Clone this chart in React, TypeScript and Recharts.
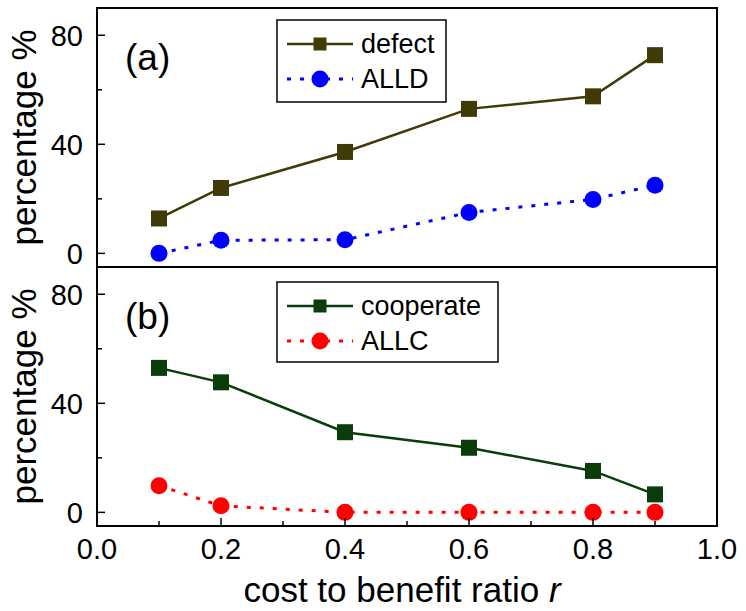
import React from 'react';
import { LineChart, Line, XAxis, YAxis, ReferenceArea } from 'recharts';

// cost to benefit ratio r
const RATIO = [0.1, 0.2, 0.4, 0.6, 0.8, 0.9];
// panel (a)
const DEFECT = [12.8, 24, 37.2, 53, 57.6, 72.7];
const ALLD = [0, 4.8, 5, 15, 19.8, 25];
// panel (b)
const COOPERATE = [53, 47.7, 29.4, 23.7, 15.2, 6.6];
const ALLC = [9.8, 2.4, 0, 0, 0, 0];

const X_TICKS = [0, 0.1, 0.2, 0.3, 0.4, 0.5, 0.6, 0.7, 0.8, 0.9, 1.0];
const X_LABELS = ['0.0', '0.2', '0.4', '0.6', '0.8', '1.0'];
const Y_TICKS = [0, 20, 40, 60, 80];
const Y_LABELS = ['0', '40', '80'];
const Y_DOMAIN = [-5, 90];

const FONT = '"Liberation Sans", Arial, sans-serif';
const C_DEFECT = '#3f3a06';
const C_COOP = '#0b3d0b';
const C_ALLD = '#0000ff';
const C_ALLC = '#ff0000';

const topData = RATIO.map((r, i) => ({ r, defect: DEFECT[i], alld: ALLD[i] }));
const bottomData = RATIO.map((r, i) => ({ r, cooperate: COOPERATE[i], allc: ALLC[i] }));

const makeXTick = (showLabel: boolean) => (props: any) => {
  const { x, y, payload } = props;
  const lbl = payload.value.toFixed(1);
  const major = X_LABELS.includes(lbl);
  return (
    <g>
      <line x1={x} x2={x} y1={y} y2={y - (major ? 8 : 5)} stroke="#000" strokeWidth={1.5} />
      {showLabel && major && (
        <text x={x} y={y + 33} textAnchor="middle" fontSize={29} fontFamily={FONT} fill="#000">
          {lbl}
        </text>
      )}
    </g>
  );
};

const YTick = (props: any) => {
  const { x, y, payload } = props;
  const lbl = String(payload.value);
  const major = Y_LABELS.includes(lbl);
  return (
    <g>
      <line x1={x} x2={x + (major ? 8 : 5)} y1={y} y2={y} stroke="#000" strokeWidth={1.5} />
      {major && (
        <text x={x - 14} y={y} dy="0.36em" textAnchor="end" fontSize={29} fontFamily={FONT} fill="#000">
          {lbl}
        </text>
      )}
    </g>
  );
};

const yLabel = (props: any) => {
  const vb = props.viewBox;
  const cy = vb.y + vb.height / 2;
  return (
    <text x={36} y={cy} transform={`rotate(-90, 36, ${cy})`} textAnchor="middle" fontSize={35} fontFamily={FONT} fill="#000">
      percentage %
    </text>
  );
};

const xLabel = (props: any) => {
  const vb = props.viewBox;
  return (
    <text x={vb.x + vb.width / 2 - 5} y={vb.y + 76} textAnchor="middle" fontSize={35} fontFamily={FONT} fill="#000">
      cost to benefit ratio <tspan fontStyle="italic">r</tspan>
    </text>
  );
};

const square = (color: string) => (p: any) => (
  <rect key={`sq-${p.index}`} x={p.cx - 8} y={p.cy - 8} width={16} height={16} fill={color} />
);

function LegendBox({ x, y, w, h, items }: { x: number; y: number; w: number; h: number; items: { label: string; color: string; kind: 'square' | 'circle' }[] }) {
  return (
    <g>
      <rect x={x} y={y} width={w} height={h} fill="#fff" stroke="#000" strokeWidth={1.5} />
      {items.map((it, i) => {
        const ry = y + 24 + i * 35;
        return (
          <g key={it.label}>
            <line
              x1={x + 10}
              x2={x + 76}
              y1={ry}
              y2={ry}
              stroke={it.color}
              strokeWidth={it.kind === 'square' ? 2.5 : 3}
              strokeDasharray={it.kind === 'square' ? undefined : '4 9'}
            />
            {it.kind === 'square' ? (
              <rect x={x + 36.5} y={ry - 6.5} width={13} height={13} fill={it.color} />
            ) : (
              <circle cx={x + 43} cy={ry} r={8.5} fill={it.color} />
            )}
            <text x={x + 84} y={ry + 9} fontSize={27} fontFamily={FONT} fill="#000">
              {it.label}
            </text>
          </g>
        );
      })}
    </g>
  );
}

export default function App() {
  return (
    <div style={{ position: 'absolute', left: 0, top: 0, width: 746, height: 611, background: '#fff' }}>
      <div style={{ position: 'absolute', left: 0, top: 0 }}>
        <LineChart width={746} height={280} data={topData} margin={{ top: 8, right: 29, bottom: 13, left: 0 }}>
          <XAxis dataKey="r" type="number" domain={[0, 1]} ticks={X_TICKS} interval={0} height={0}
            tickLine={false} axisLine={false} tickSize={0} tickMargin={0} tick={makeXTick(false)} />
          <YAxis type="number" domain={Y_DOMAIN} ticks={Y_TICKS} interval={0} width={97}
            tickLine={false} axisLine={false} tickSize={0} tickMargin={0} tick={YTick} label={yLabel} />
          <ReferenceArea x1={0} x2={1} y1={-5} y2={90} fill="none" stroke="#000" strokeWidth={2} fillOpacity={0} />
          <Line type="linear" dataKey="alld" stroke={C_ALLD} strokeWidth={3} strokeDasharray="4 9"
            dot={{ r: 8.5, fill: C_ALLD, stroke: C_ALLD, strokeWidth: 0 }} isAnimationActive={false} />
          <Line type="linear" dataKey="defect" stroke={C_DEFECT} strokeWidth={2.5}
            dot={square(C_DEFECT)} isAnimationActive={false} />
        </LineChart>
      </div>
      <div style={{ position: 'absolute', left: 0, top: 259 }}>
        <LineChart width={746} height={352} data={bottomData} margin={{ top: 8, right: 29, bottom: 0, left: 0 }}>
          <XAxis dataKey="r" type="number" domain={[0, 1]} ticks={X_TICKS} interval={0} height={85}
            tickLine={false} axisLine={false} tickSize={0} tickMargin={0} tick={makeXTick(true)} label={xLabel} />
          <YAxis type="number" domain={Y_DOMAIN} ticks={Y_TICKS} interval={0} width={97}
            tickLine={false} axisLine={false} tickSize={0} tickMargin={0} tick={YTick} label={yLabel} />
          <ReferenceArea x1={0} x2={1} y1={-5} y2={90} fill="none" stroke="#000" strokeWidth={2} fillOpacity={0} />
          <Line type="linear" dataKey="allc" stroke={C_ALLC} strokeWidth={3} strokeDasharray="4 9"
            dot={{ r: 8.5, fill: C_ALLC, stroke: C_ALLC, strokeWidth: 0 }} isAnimationActive={false} />
          <Line type="linear" dataKey="cooperate" stroke={C_COOP} strokeWidth={2.5}
            dot={square(C_COOP)} isAnimationActive={false} />
        </LineChart>
      </div>
      <svg width={746} height={611} style={{ position: 'absolute', left: 0, top: 0, pointerEvents: 'none' }}>
        <text x={125} y={70} fontSize={37} fontFamily={FONT} fill="#000">(a)</text>
        <text x={125} y={329} fontSize={37} fontFamily={FONT} fill="#000">(b)</text>
        <LegendBox x={277} y={20} w={169} h={82}
          items={[{ label: 'defect', color: C_DEFECT, kind: 'square' }, { label: 'ALLD', color: C_ALLD, kind: 'circle' }]} />
        <LegendBox x={277} y={282} w={221} h={80}
          items={[{ label: 'cooperate', color: C_COOP, kind: 'square' }, { label: 'ALLC', color: C_ALLC, kind: 'circle' }]} />
      </svg>
    </div>
  );
}
